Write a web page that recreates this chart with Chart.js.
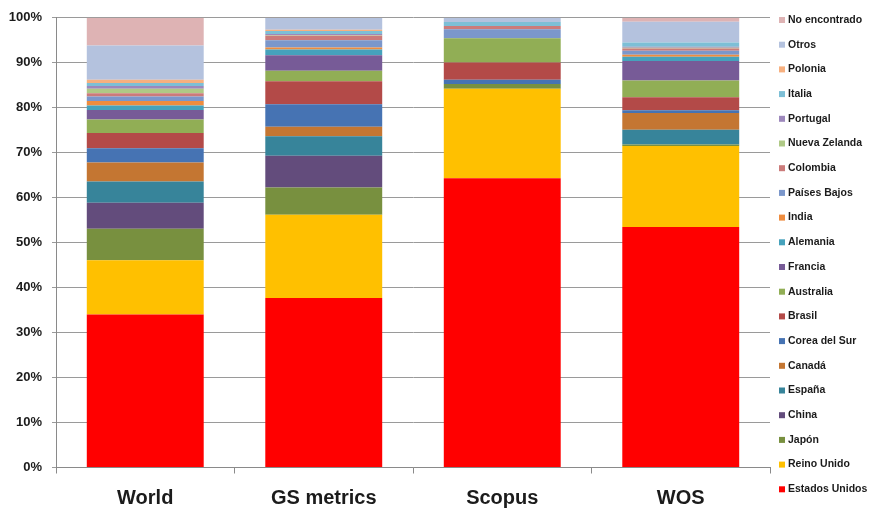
<!DOCTYPE html>
<html>
<head>
<meta charset="utf-8">
<script src="https://cdn.jsdelivr.net/npm/chart.js@4/dist/chart.umd.min.js"></script>
<style>
  html, body { margin: 0; padding: 0; background: #fff; }
  #wrap { width: 869px; height: 508px; position: relative; }
</style>
</head>
<body>
<div id="wrap"><canvas id="c"></canvas></div>
<script>
// Sources compared (x axis)
const categories = ['World', 'GS metrics', 'Scopus', 'WOS'];

// Y axis ticks (percent of total)
const yTicks = [0, 10, 20, 30, 40, 50, 60, 70, 80, 90, 100];

// Share (%) of each country per source: World, GS metrics, Scopus, WOS
const estadosUnidos = [34.0, 37.7, 64.3, 53.5];
const reinoUnido    = [12.1, 18.5, 19.9, 18.0];
const japon         = [7.0, 6.05, 1.1, 0.3];
const china         = [5.8, 7.1, 0, 0];
const espana        = [4.7, 4.3, 0, 3.3];
const canada        = [4.2, 2.1, 0, 3.75];
const coreaDelSur   = [3.2, 5.0, 0.95, 0.6];
const brasil        = [3.4, 5.15, 3.8, 2.9];
const australia     = [3.0, 2.3, 5.4, 3.7];
const francia       = [2.1, 3.45, 0, 4.35];
const alemania      = [1.0, 1.3, 0, 0.95];
const india         = [1.0, 0.45, 0, 0.45];
const paisesBajos   = [1.0, 1.6, 2.0, 0.9];
const colombia      = [0.7, 1.0, 0.7, 0.45];
const nuevaZelanda  = [1.0, 0.1, 0, 0.2];
const portugal      = [0.65, 0.3, 0, 0.2];
const italia        = [0.65, 0.65, 0.9, 0.95];
const polonia       = [0.75, 0.3, 0, 0];
const otros         = [7.6, 2.6, 0.95, 4.6];
const noEncontrado  = [6.15, 0.05, 0, 0.9];

const series = [
  ['Estados Unidos', estadosUnidos, '#FF0000'],
  ['Reino Unido',    reinoUnido,    '#FFC000'],
  ['Japón',          japon,         '#78903F'],
  ['China',          china,         '#634C7C'],
  ['España',         espana,        '#37849A'],
  ['Canadá',         canada,        '#C47632'],
  ['Corea del Sur',  coreaDelSur,   '#4673B3'],
  ['Brasil',         brasil,        '#B34A48'],
  ['Australia',      australia,     '#91AE55'],
  ['Francia',        francia,       '#775B97'],
  ['Alemania',       alemania,      '#46A2BC'],
  ['India',          india,         '#EE8C3F'],
  ['Países Bajos',   paisesBajos,   '#7B97CB'],
  ['Colombia',       colombia,      '#CB7B7A'],
  ['Nueva Zelanda',  nuevaZelanda,  '#AFC986'],
  ['Portugal',       portugal,      '#9D88BC'],
  ['Italia',         italia,        '#7DBFD6'],
  ['Polonia',        polonia,       '#F7B07F'],
  ['Otros',          otros,         '#B4C2DE'],
  ['No encontrado',  noEncontrado,  '#DEB3B4']
];

const datasets = series.map(([label, data, color]) => ({
  label,
  data,
  backgroundColor: color,
  borderWidth: 0,
  categoryPercentage: 1.0,
  barPercentage: 0.655
}));

const TEXT = '#1b1b1b';
const FONT = '"Liberation Sans", Arial, sans-serif';

// Legend drawn in the right margin, last series on top
const sideLegend = {
  id: 'sideLegend',
  afterDraw(chart) {
    const ctx = chart.ctx;
    const ds = chart.data.datasets;
    const x0 = chart.chartArea.right + 9;
    ctx.save();
    ctx.font = 'bold 10.5px ' + FONT;
    ctx.textBaseline = 'middle';
    ctx.textAlign = 'left';
    for (let i = ds.length - 1, row = 0; i >= 0; i--, row++) {
      const y = 20 + row * 24.7;
      ctx.fillStyle = ds[i].backgroundColor;
      ctx.fillRect(x0, y - 3, 6, 6);
      ctx.fillStyle = TEXT;
      ctx.fillText(ds[i].label, x0 + 9, y);
    }
    ctx.restore();
  }
};

new Chart(document.getElementById('c'), {
  type: 'bar',
  data: { labels: categories, datasets },
  options: {
    responsive: true,
    maintainAspectRatio: false,
    animation: false,
    layout: { padding: { top: 13, right: 99, bottom: 0, left: 0 } },
    plugins: {
      legend: { display: false },
      tooltip: { enabled: false }
    },
    scales: {
      x: {
        stacked: true,
        offset: true,
        afterFit: (scale) => { scale.height = 40.5; },
        border: { display: true, color: '#8a8a8a', width: 1 },
        grid: {
          offset: true,
          drawOnChartArea: false,
          drawTicks: true,
          tickLength: 6,
          color: '#8a8a8a'
        },
        ticks: {
          color: TEXT,
          padding: 13,
          font: { family: FONT, size: 20, weight: 'bold' }
        }
      },
      y: {
        stacked: true,
        min: 0,
        max: 100,
        afterFit: (scale) => { scale.width = 56; },
        afterBuildTicks: (scale) => { scale.ticks = yTicks.map(v => ({ value: v })); },
        border: { display: true, color: '#8a8a8a', width: 1 },
        grid: {
          color: '#9a9a9a',
          lineWidth: 1,
          tickLength: 4
        },
        ticks: {
          color: TEXT,
          padding: 10,
          font: { family: FONT, size: 13, weight: 'bold' },
          callback: (v) => v + '%'
        }
      }
    }
  },
  plugins: [sideLegend]
});
</script>
</body>
</html>
